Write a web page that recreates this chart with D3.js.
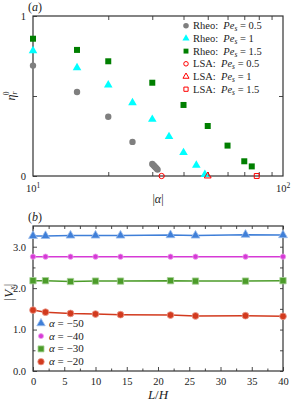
<!DOCTYPE html>
<html>
<head>
<meta charset="utf-8">
<script src="https://cdn.jsdelivr.net/npm/d3@7"></script>
<style>
  body { margin: 0; background: #fff; }
  svg { display: block; font-family: "Liberation Serif", "DejaVu Serif", serif; }
  .axis path, .axis line { stroke: #333; }
  .axis text { font-size: 10.5px; fill: #222; font-family: "Liberation Serif", serif; }
</style>
</head>
<body>
<script>
// ---- panel (a) data : eta_r^0 vs |alpha|
const alphaRheo05 = [10, 15, 20, 25, 30, 30.3, 30.6, 30.9, 31.2, 31.5];
const etaRheo05 = [0.69, 0.525, 0.37, 0.213, 0.075, 0.068, 0.061, 0.054, 0.047, 0.04];
const alphaRheo1 = [10, 15, 20, 25, 30, 35, 40, 45, 48.7];
const etaRheo1 = [0.783, 0.677, 0.569, 0.458, 0.354, 0.246, 0.146, 0.067, 0.01];
const alphaRheo15 = [10, 15, 20, 30, 40, 50, 60, 70, 75];
const etaRheo15 = [0.858, 0.788, 0.717, 0.583, 0.444, 0.3125, 0.19, 0.092, 0.06];
const alphaLSA = [32.7, 50, 78.5];
const etaLSA = [0, 0, 0];
const legendA = ["Rheo:", "Rheo:", "Rheo:", "LSA:", "LSA:", "LSA:"];
const peLabels = ["0.5", "1", "1.5", "0.5", "1", "1.5"];

// ---- panel (b) data : |V_x| vs L/H
const LH = [0, 2, 6, 10, 14, 22, 26, 34, 40];
const vAlpha50 = [3.26, 3.26, 3.27, 3.27, 3.27, 3.28, 3.27, 3.29, 3.28];
const vAlpha40 = [2.76, 2.76, 2.76, 2.76, 2.76, 2.76, 2.76, 2.76, 2.76];
const vAlpha30 = [2.18, 2.18, 2.16, 2.17, 2.17, 2.18, 2.17, 2.17, 2.18];
const vAlpha20 = [1.47, 1.42, 1.39, 1.375, 1.36, 1.35, 1.33, 1.335, 1.32];
const alphaLabels = ["\u221250", "\u221240", "\u221230", "\u221220"];

const W = 292, H = 405;
const svg = d3.select("body").append("svg").attr("width", W).attr("height", H);

// ================= panel (a)
const a = { left: 33, right: 283, top: 16, bottom: 176 };
const xA = d3.scaleLog().domain([10, 100]).range([a.left, a.right]);
const yA = d3.scaleLinear().domain([0, 1]).range([a.bottom, a.top]);
const gA = svg.append("g");

const minorLog = d3.range(20, 100, 10);
// frame
gA.append("rect").attr("x", a.left).attr("y", a.top).attr("width", a.right - a.left)
  .attr("height", a.bottom - a.top).attr("fill", "none").attr("stroke", "#333").attr("stroke-width", 1.2);

function axisStyle(g) {
  g.attr("class", "axis");
  g.select(".domain").remove();
  g.selectAll("line").attr("stroke-width", 0.9);
}
gA.append("g").attr("transform", `translate(0,${a.bottom})`)
  .call(d3.axisBottom(xA).tickValues(minorLog).tickSize(-4).tickFormat(""))
  .call(axisStyle);
gA.append("g").attr("transform", `translate(0,${a.top})`)
  .call(d3.axisTop(xA).tickValues(minorLog).tickSize(-4).tickFormat(""))
  .call(axisStyle);
gA.append("g").attr("transform", `translate(${a.left},0)`)
  .call(d3.axisLeft(yA).tickValues([0, 0.5, 1]).tickSize(-4).tickPadding(7)
    .tickFormat(d => d === 0.5 ? "" : d))
  .call(axisStyle);
gA.append("g").attr("transform", `translate(${a.right},0)`)
  .call(d3.axisRight(yA).tickValues([0.5]).tickSize(-4).tickFormat(""))
  .call(axisStyle);

// log tick labels 10^1, 10^2
[10, 100].forEach(v => {
  const t = gA.append("text").attr("x", xA(v)).attr("y", 192)
    .attr("text-anchor", "middle").attr("font-size", 10.5).attr("fill", "#222");
  t.append("tspan").text("10");
  t.append("tspan").attr("dy", -4).attr("font-size", 7.5).text(Math.log10(v));
});

const gray = "#7f7f7f", cyan = "#00ffff", green = "#007f00", red = "#ff0000";
const sym = (type, size) => d3.symbol().type(type).size(size)();

function plotA(xs, ys, type, size, fill, stroke) {
  gA.append("g").selectAll("path").data(xs).join("path")
    .attr("transform", (d, i) => `translate(${xA(d)},${yA(ys[i])})`)
    .attr("d", sym(type, size))
    .attr("fill", fill).attr("stroke", stroke).attr("stroke-width", 1);
}
plotA(alphaRheo05, etaRheo05, d3.symbolCircle, 32, gray, "none");
plotA(alphaRheo1, etaRheo1, d3.symbolTriangle, 32, cyan, "none");
plotA(alphaRheo15, etaRheo15, d3.symbolSquare, 36, green, "none");
plotA([alphaLSA[0]], [etaLSA[0]], d3.symbolCircle, 22, "none", red);
plotA([alphaLSA[1]], [etaLSA[1]], d3.symbolTriangle, 20, "none", red);
plotA([alphaLSA[2]], [etaLSA[2]], d3.symbolSquare, 24, "none", red);

// legend (a)
const legSyms = [
  [d3.symbolCircle, 24, gray, "none"], [d3.symbolTriangle, 22, cyan, "none"],
  [d3.symbolSquare, 24, green, "none"], [d3.symbolCircle, 16, "none", red],
  [d3.symbolTriangle, 16, "none", red], [d3.symbolSquare, 18, "none", red]
];
legSyms.forEach((s, i) => {
  const y = 25.7 + i * 12.7;
  gA.append("path").attr("transform", `translate(186,${y})`).attr("d", sym(s[0], s[1]))
    .attr("fill", s[2]).attr("stroke", s[3]).attr("stroke-width", 1);
  const t = gA.append("text").attr("x", 193).attr("y", y + 3.5).attr("font-size", 10.5).attr("fill", "#222");
  t.append("tspan").text(legendA[i] + "\u2002");
  t.append("tspan").attr("font-style", "italic").text("Pe");
  t.append("tspan").attr("font-style", "italic").attr("font-size", 7.5).attr("dy", 2).text("s");
  t.append("tspan").attr("dy", -2).text(" = " + peLabels[i]);
});

// labels (a)
svg.append("text").attr("x", 35).attr("y", 11).attr("text-anchor", "middle")
  .attr("font-size", 12).attr("fill", "#222")
  .html('(<tspan font-style="italic">a</tspan>)');
{
  const t = svg.append("text").attr("transform", "translate(15,96) rotate(-90)")
    .attr("text-anchor", "middle").attr("font-size", 12).attr("fill", "#222");
  t.append("tspan").attr("font-style", "italic").text("\u03b7");
  t.append("tspan").attr("font-style", "italic").attr("font-size", 7.5).attr("dy", 2).text("r");
  t.append("tspan").attr("font-size", 7.5).attr("dx", -3.5).attr("dy", -8).text("0");
}
svg.append("text").attr("x", 158).attr("y", 203).attr("text-anchor", "middle")
  .attr("font-size", 12).attr("fill", "#222")
  .html('|<tspan font-style="italic">\u03b1</tspan>|');

// ================= panel (b)
const b = { left: 33, right: 283, top: 226, bottom: 371 };
const xB = d3.scaleLinear().domain([0, 40]).range([b.left, b.right]);
const yB = d3.scaleLinear().domain([0, 3.5]).range([b.bottom, b.top]);
const gB = svg.append("g");

gB.append("rect").attr("x", b.left).attr("y", b.top).attr("width", b.right - b.left)
  .attr("height", b.bottom - b.top).attr("fill", "none").attr("stroke", "#333").attr("stroke-width", 1.2);

const xMajor = d3.range(0, 41, 5), xMinor = d3.range(2.5, 40, 5);
const yMajor = [0, 1, 2, 3], yMinor = [0.5, 1.5, 2.5];
gB.append("g").attr("transform", `translate(0,${b.bottom})`)
  .call(d3.axisBottom(xB).tickValues(xMajor).tickSize(-4).tickPadding(7)).call(axisStyle);
gB.append("g").attr("transform", `translate(0,${b.bottom})`)
  .call(d3.axisBottom(xB).tickValues(xMinor).tickSize(-2.5).tickFormat("")).call(axisStyle);
gB.append("g").attr("transform", `translate(0,${b.top})`)
  .call(d3.axisTop(xB).tickValues(xMajor.concat(xMinor)).tickSize(-3).tickFormat("")).call(axisStyle);
gB.append("g").attr("transform", `translate(${b.left},0)`)
  .call(d3.axisLeft(yB).tickValues(yMajor).tickSize(-4).tickPadding(7)).call(axisStyle);
gB.append("g").attr("transform", `translate(${b.left},0)`)
  .call(d3.axisLeft(yB).tickValues(yMinor).tickSize(-2.5).tickFormat("")).call(axisStyle);
gB.append("g").attr("transform", `translate(${b.right},0)`)
  .call(d3.axisRight(yB).tickValues(yMajor.concat(yMinor)).tickSize(-3).tickFormat("")).call(axisStyle);

const seriesB = [
  { v: vAlpha50, color: "#3f7fd8", edge: "#9bbcec", type: d3.symbolTriangle, size: 34 },
  { v: vAlpha40, color: "#d63ad6", edge: "#eb9ceb", type: d3.symbolCircle, size: 22 },
  { v: vAlpha30, color: "#4c9c2a", edge: "#a6d196", type: d3.symbolSquare, size: 40 },
  { v: vAlpha20, color: "#d23a1e", edge: "#eb9c8e", type: d3.symbolCircle, size: 36 }
];
const line = d3.line();
seriesB.forEach(s => {
  gB.append("path").attr("d", line(LH.map((x, i) => [xB(x), yB(s.v[i])])))
    .attr("fill", "none").attr("stroke", s.color).attr("stroke-width", 1.5);
  gB.append("g").selectAll("path").data(LH).join("path")
    .attr("transform", (d, i) => `translate(${xB(d)},${yB(s.v[i])})`)
    .attr("d", sym(s.type, s.size)).attr("fill", s.color)
    .attr("stroke", s.edge).attr("stroke-width", 0.8);
});

// legend (b)
seriesB.forEach((s, i) => {
  const y = 323.3 + i * 12.8;
  gB.append("path").attr("transform", `translate(41,${y})`).attr("d", sym(s.type, s.size * 0.9))
    .attr("fill", s.color).attr("stroke", s.edge).attr("stroke-width", 0.8);
  const t = gB.append("text").attr("x", 49).attr("y", y + 3.5).attr("font-size", 11).attr("fill", "#222");
  t.append("tspan").attr("font-style", "italic").text("\u03b1");
  t.append("tspan").text(" = " + alphaLabels[i]);
});

// labels (b)
svg.append("text").attr("x", 35).attr("y", 221).attr("text-anchor", "middle")
  .attr("font-size", 12).attr("fill", "#222")
  .html('(<tspan font-style="italic">b</tspan>)');
{
  const t = svg.append("text").attr("transform", "translate(13,292) rotate(-90)")
    .attr("text-anchor", "middle").attr("font-size", 13).attr("fill", "#222");
  t.append("tspan").text("|");
  t.append("tspan").attr("font-style", "italic").text("V");
  t.append("tspan").attr("font-style", "italic").attr("font-size", 8.5).attr("dy", 2).text("x");
  t.append("tspan").attr("dy", -2).text("|");
}
svg.append("text").attr("x", 158).attr("y", 399).attr("text-anchor", "middle")
  .attr("font-size", 13).attr("fill", "#222")
  .html('<tspan font-style="italic">L</tspan>/<tspan font-style="italic">H</tspan>');
</script>
</body>
</html>
